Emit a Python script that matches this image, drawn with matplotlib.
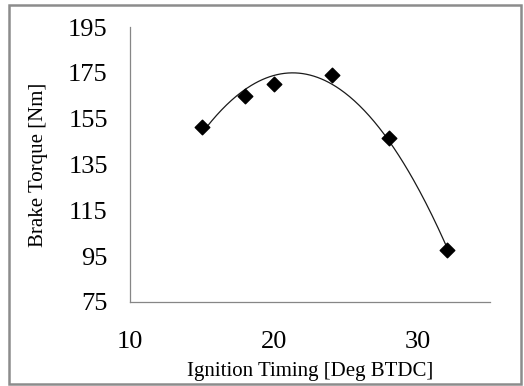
import matplotlib
matplotlib.use("Agg")
import matplotlib.pyplot as plt
import numpy as np
from matplotlib.patches import Rectangle

# ignition timing vs brake torque
timing = [15, 18, 20, 24, 28, 32]
torque = [151.5, 165, 170, 174, 146.5, 97.5]
xticks = [10, 20, 30]
yticks = [75, 95, 115, 135, 155, 175, 195]

plt.rcParams['font.family'] = ['Liberation Serif', 'DejaVu Serif']

fig = plt.figure(figsize=(5.24, 3.86), dpi=100)
ax = fig.add_axes([0.248, 0.218, 0.687, 0.712])

# polynomial trendline (excel style)
coef = np.polyfit(timing, torque, 2)
xs = np.linspace(min(timing), max(timing), 200)
ax.plot(xs, np.polyval(coef, xs), color='#1a1a1a', lw=0.9)
ax.scatter(timing, torque, marker='D', s=55, color='black', zorder=3)

ax.set_xlim(10, 35)
ax.set_ylim(75, 195)
ax.set_xticks(xticks)
ax.set_yticks(yticks)
ax.tick_params(axis='both', length=0, labelsize=19)
ax.tick_params(axis='x', pad=21)
ax.tick_params(axis='y', pad=16)
for s in ['top', 'right']:
    ax.spines[s].set_visible(False)
for s in ['left', 'bottom']:
    ax.spines[s].set_color('#868686')
    ax.spines[s].set_linewidth(0.9)

ax.set_xlabel('Ignition Timing [Deg BTDC]', fontsize=15)
ax.set_ylabel('Brake Torque [Nm]', fontsize=15)
ax.xaxis.set_label_coords(0.5, -0.218)
ax.yaxis.set_label_coords(-0.228, 0.5)

# outer chart border
fig.patches.append(Rectangle((9/524, 2/386), 512/524, 379/386, transform=fig.transFigure,
                             fill=False, edgecolor='#8c8c8c', lw=1.8))

fig.savefig('out.png', dpi=100)
